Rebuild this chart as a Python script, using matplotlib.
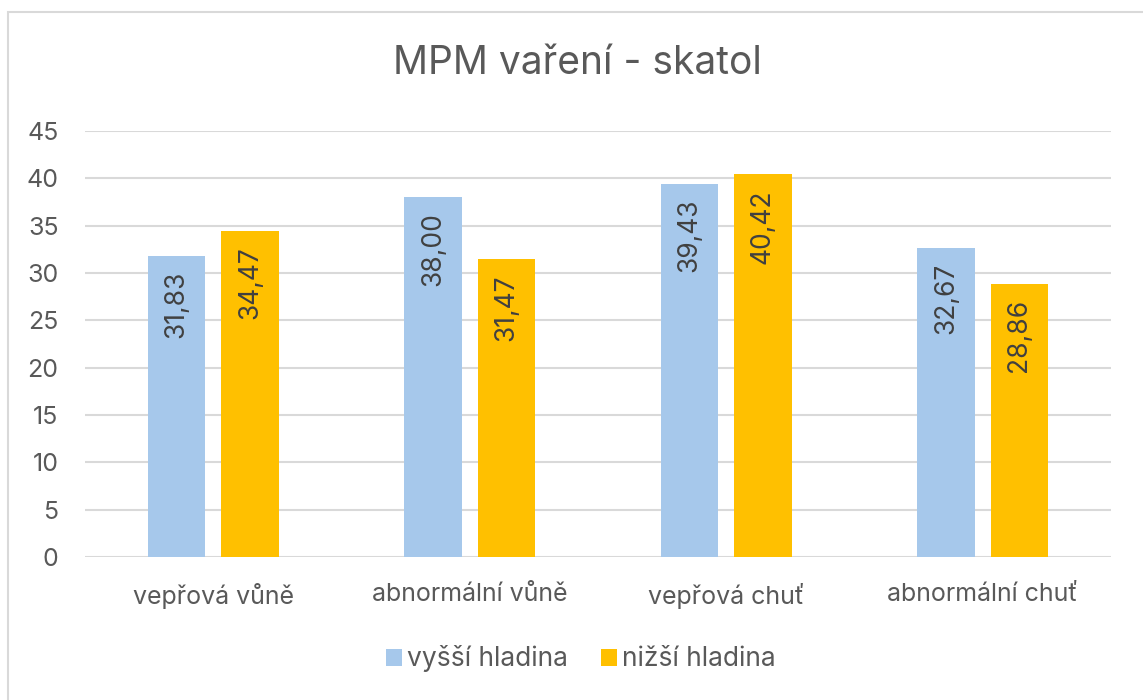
import matplotlib
matplotlib.use("Agg")
import matplotlib.pyplot as plt
from matplotlib.patches import Rectangle
import numpy as np

categories = ["vepřová vůně", "abnormální vůně", "vepřová chuť", "abnormální chuť"]
vyssi = [31.83, 38.00, 39.43, 32.67]
nizsi = [34.47, 31.47, 40.42, 28.86]
series_names = ["vyšší hladina", "nižší hladina"]
yticks = [0, 5, 10, 15, 20, 25, 30, 35, 40, 45]

plt.rcParams['font.family'] = ['Inter', 'DejaVu Sans']

W, H = 1143, 700
fig = plt.figure(figsize=(W / 100, H / 100), dpi=100)
fig.patch.set_facecolor("white")

# chart border
fig.patches.append(Rectangle((8 / W, -0.1), 1.2, (H - 12) / H + 0.1, transform=fig.transFigure,
                             fill=False, edgecolor="#D9D9D9", linewidth=1.5))

ax = fig.add_axes([85 / W, (H - 557) / H, (1111 - 85) / W, (557 - 131) / H])
x = np.arange(len(categories))
bw = 0.223
off = 0.143
c1, c2 = "#A6C8EB", "#FFC000"
b1 = ax.bar(x - off, vyssi, bw, color=c1, label=series_names[0], zorder=3)
b2 = ax.bar(x + off, nizsi, bw, color=c2, label=series_names[1], zorder=3)

for bars, vals in ((b1, vyssi), (b2, nizsi)):
    for r, v in zip(bars, vals):
        ax.text(r.get_x() + r.get_width() / 2, v - 1.6, f"{v:.2f}".replace(".", ","),
                rotation=90, ha="center", va="top", fontsize=19, color="#404040", zorder=4)

ax.set_xlim(-0.5, len(categories) - 0.5)
ax.set_ylim(0, 45)
ax.set_yticks(yticks)
ax.set_xticks(x)
ax.set_xticklabels(categories)
ax.tick_params(axis="y", length=0, pad=19, labelsize=18, labelcolor="#595959")
ax.tick_params(axis="x", length=0, pad=19, labelsize=18, labelcolor="#595959")
ax.yaxis.grid(True, color="#D9D9D9", linewidth=1.5, zorder=0)
for s in ax.spines.values():
    s.set_visible(False)

fig.text(577 / W, 1 - 64 / H, "MPM vaření - skatol", ha="center", va="center",
         fontsize=28, color="#595959")

fig.legend(handles=[b1, b2], labels=series_names, loc="center", bbox_to_anchor=(581 / W, 1 - 659 / H),
           ncol=2, frameon=False, fontsize=19, labelcolor="#595959", handlelength=0.6,
           handleheight=0.6, handletextpad=0.2, columnspacing=1.25)

fig.savefig("out.png", dpi=100, facecolor="white")
